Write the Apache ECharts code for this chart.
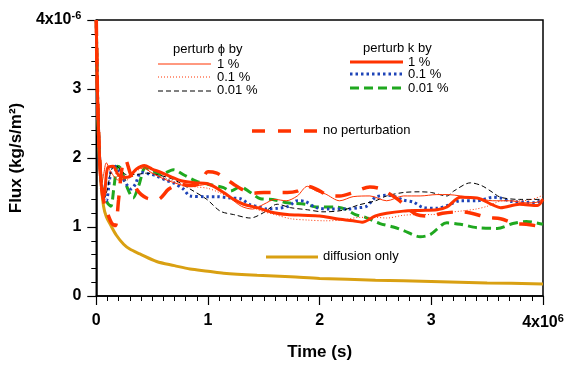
<!DOCTYPE html>
<html>
<head>
<meta charset="utf-8">
<script src="https://cdn.jsdelivr.net/npm/echarts@6/dist/echarts.min.js"></script>
<style>
  html, body { margin: 0; padding: 0; background: #fff; }
  #chart { width: 576px; height: 366px; }
</style>
</head>
<body>
<div id="chart"></div>
<script>
// time in units of 1e6 s, flux in units of 1e-6 kg/s/m2
const xTicks = [0, 1, 2, 3, 4]
const yTicks = [0, 1, 2, 3, 4]

const diffusionOnly = [
  [0, 4.0], [0.01, 3.0], [0.02, 2.3], [0.04, 1.7], [0.065, 1.3], [0.09, 1.15],
  [0.125, 1.04], [0.18, 0.88], [0.245, 0.75], [0.3, 0.68], [0.39, 0.61], [0.54, 0.5],
  [0.7, 0.44], [0.84, 0.39], [1.0, 0.36], [1.14, 0.33], [1.44, 0.3], [1.74, 0.28],
  [2.0, 0.255], [2.5, 0.23], [3.0, 0.21], [3.5, 0.19], [4.0, 0.175]
]

const phi1 = [
  [0, 4.0], [0.01, 3.0], [0.025, 2.2], [0.045, 1.6], [0.065, 1.75], [0.09, 1.93],
  [0.13, 1.8], [0.2, 1.68], [0.28, 1.72], [0.35, 1.82], [0.42, 1.86], [0.5, 1.78],
  [0.6, 1.7], [0.7, 1.64], [0.8, 1.6], [0.9, 1.6], [1.0, 1.62], [1.1, 1.55],
  [1.2, 1.42], [1.3, 1.3], [1.4, 1.26], [1.5, 1.33], [1.6, 1.4], [1.7, 1.38],
  [1.8, 1.45], [1.89, 1.59], [1.97, 1.52], [2.05, 1.48], [2.18, 1.38], [2.3, 1.44],
  [2.45, 1.45], [2.6, 1.38], [2.75, 1.45], [2.9, 1.45], [3.05, 1.47], [3.15, 1.47],
  [3.26, 1.45], [3.4, 1.42], [3.55, 1.38], [3.7, 1.38], [3.85, 1.35], [3.95, 1.36], [4.0, 1.42]
]

const phi01 = [
  [0, 4.0], [0.01, 3.0], [0.025, 2.2], [0.045, 1.65], [0.07, 1.55], [0.1, 1.85],
  [0.14, 1.88], [0.2, 1.7], [0.27, 1.68], [0.35, 1.8], [0.42, 1.85], [0.5, 1.78],
  [0.6, 1.72], [0.7, 1.66], [0.8, 1.6], [0.9, 1.58], [1.0, 1.56], [1.1, 1.5],
  [1.2, 1.42], [1.3, 1.33], [1.4, 1.28], [1.5, 1.22], [1.6, 1.18], [1.74, 1.12],
  [1.9, 1.1], [2.05, 1.09], [2.2, 1.1], [2.36, 1.14], [2.5, 1.14], [2.6, 1.13],
  [2.75, 1.17], [2.9, 1.18], [3.0, 1.18], [3.14, 1.21], [3.26, 1.23], [3.4, 1.26],
  [3.5, 1.3], [3.64, 1.38], [3.8, 1.38], [3.9, 1.4], [4.0, 1.46]
]

const phi001 = [
  [0, 4.0], [0.01, 3.0], [0.025, 2.2], [0.045, 1.65], [0.07, 1.42], [0.1, 1.55],
  [0.13, 1.8], [0.17, 1.9], [0.22, 1.82], [0.27, 1.76], [0.35, 1.76], [0.45, 1.78],
  [0.54, 1.76], [0.69, 1.69], [0.84, 1.55], [0.99, 1.4], [1.11, 1.23], [1.23, 1.18],
  [1.38, 1.13], [1.5, 1.21], [1.62, 1.33], [1.74, 1.28], [1.89, 1.25], [2.03, 1.22],
  [2.2, 1.24], [2.35, 1.32], [2.5, 1.38], [2.6, 1.45], [2.75, 1.5], [2.9, 1.51],
  [3.0, 1.5], [3.14, 1.45], [3.2, 1.52], [3.35, 1.64], [3.45, 1.6], [3.55, 1.5],
  [3.62, 1.43], [3.79, 1.4], [4.0, 1.4]
]

const k1 = [
  [0, 4.0], [0.01, 3.0], [0.025, 2.2], [0.045, 1.6], [0.07, 1.45], [0.1, 1.85],
  [0.15, 1.88], [0.2, 1.75], [0.28, 1.72], [0.36, 1.84], [0.43, 1.89], [0.5, 1.84],
  [0.58, 1.79], [0.68, 1.72], [0.76, 1.67], [0.88, 1.64], [0.99, 1.63], [1.14, 1.5],
  [1.23, 1.4], [1.32, 1.33], [1.44, 1.28], [1.58, 1.21], [1.71, 1.18], [1.85, 1.17],
  [2.0, 1.16], [2.15, 1.12], [2.3, 1.09], [2.38, 1.07], [2.5, 1.16], [2.6, 1.2],
  [2.75, 1.23], [2.9, 1.24], [3.05, 1.25], [3.14, 1.29], [3.26, 1.43], [3.41, 1.42],
  [3.55, 1.32], [3.62, 1.28], [3.79, 1.33], [3.95, 1.31], [4.0, 1.4]
]

const k01 = [
  [0, 4.0], [0.01, 3.0], [0.025, 2.2], [0.045, 1.65], [0.07, 1.45], [0.09, 1.38],
  [0.12, 1.7], [0.15, 1.9], [0.2, 1.82], [0.27, 1.62], [0.31, 1.55], [0.35, 1.62],
  [0.4, 1.79], [0.47, 1.77], [0.54, 1.74], [0.62, 1.68], [0.69, 1.64], [0.78, 1.55],
  [0.84, 1.45], [0.99, 1.44], [1.08, 1.44], [1.2, 1.42], [1.29, 1.41], [1.38, 1.32],
  [1.44, 1.3], [1.53, 1.26], [1.62, 1.27], [1.72, 1.3], [1.8, 1.38], [1.87, 1.37],
  [1.97, 1.28], [2.1, 1.26], [2.23, 1.26], [2.35, 1.28], [2.42, 1.3], [2.5, 1.43],
  [2.6, 1.46], [2.66, 1.45], [2.75, 1.39], [2.84, 1.36], [2.93, 1.28], [3.05, 1.27],
  [3.14, 1.31], [3.26, 1.38], [3.41, 1.38], [3.55, 1.43], [3.62, 1.42], [3.72, 1.37],
  [3.85, 1.36], [3.93, 1.35], [4.0, 1.4]
]

const k001 = [
  [0, 4.0], [0.01, 3.0], [0.025, 2.2], [0.045, 1.65], [0.07, 1.5], [0.1, 1.35],
  [0.13, 1.3], [0.16, 1.6], [0.19, 1.88], [0.22, 1.85], [0.27, 1.6], [0.33, 1.42],
  [0.38, 1.6], [0.44, 1.86], [0.5, 1.82], [0.58, 1.76], [0.69, 1.83], [0.79, 1.75],
  [0.9, 1.66], [1.0, 1.62], [1.14, 1.57], [1.2, 1.52], [1.29, 1.58], [1.38, 1.5],
  [1.47, 1.41], [1.58, 1.4], [1.71, 1.35], [1.87, 1.33], [1.97, 1.29], [2.14, 1.29],
  [2.23, 1.26], [2.32, 1.18], [2.41, 1.14], [2.54, 1.05], [2.66, 1.0], [2.75, 0.95],
  [2.9, 0.86], [2.99, 0.89], [3.14, 1.06], [3.26, 1.04], [3.41, 0.99], [3.59, 0.98],
  [3.73, 1.05], [3.85, 1.08], [4.0, 1.04]
]

const noPerturb = [
  [0, 4.0], [0.01, 3.0], [0.025, 2.2], [0.045, 1.6], [0.07, 1.35], [0.1, 1.2],
  [0.14, 1.05], [0.17, 1.02], [0.2, 1.4], [0.23, 1.85], [0.26, 1.98], [0.3, 1.8],
  [0.36, 1.55], [0.45, 1.42], [0.55, 1.4], [0.65, 1.55], [0.75, 1.62], [0.85, 1.6],
  [0.93, 1.64], [1.0, 1.8], [1.08, 1.78], [1.14, 1.72], [1.23, 1.62], [1.3, 1.55],
  [1.4, 1.49], [1.5, 1.5], [1.6, 1.5], [1.71, 1.5], [1.8, 1.52], [1.89, 1.59],
  [1.97, 1.55], [2.08, 1.46], [2.18, 1.45], [2.3, 1.5], [2.45, 1.58], [2.55, 1.55],
  [2.7, 1.4], [2.87, 1.18], [2.99, 1.16], [3.1, 1.2], [3.26, 1.22], [3.36, 1.2],
  [3.5, 1.14], [3.62, 1.12], [3.75, 1.05], [3.85, 1.04], [4.0, 1.0]
]

const RED = '#ff3300'
const BLUE = '#1e44b8'
const GREEN = '#1fa81f'
const GOLD = '#d9a012'
const FONT = 'Liberation Sans, Arial, sans-serif'

const chart = echarts.init(document.getElementById('chart'), null, { renderer: 'canvas' })

function lineSeries(name, data, color, width, type, z) {
  return {
    name: name,
    type: 'line',
    data: data,
    showSymbol: false,
    smooth: 0.3,
    z: z,
    lineStyle: { color: color, width: width, type: type, cap: 'butt' },
  }
}

const tickRich = {
  n: { fontFamily: FONT, fontSize: 16, fontWeight: 'bold', color: '#000' },
  s: { fontFamily: FONT, fontSize: 11, fontWeight: 'bold', color: '#000', verticalAlign: 'top', padding: [0, 0, 9, 0] },
}

// legend text + samples
const legendText = (text, x, y) => ({
  type: 'text', x: x, y: y,
  style: { text: text, font: '13px ' + FONT, fill: '#000', verticalAlign: 'middle' },
})
const legendLine = (x1, x2, y, color, width, dash) => ({
  type: 'line',
  shape: { x1: x1, y1: y, x2: x2, y2: y },
  style: { stroke: color, lineWidth: width, lineDash: dash },
})

const option = {
  animation: false,
  backgroundColor: '#fff',
  grid: {
    left: 96, right: 33, top: 20, bottom: 69,
    show: true, borderColor: '#000', borderWidth: 1.5,
  },
  xAxis: {
    type: 'value',
    min: xTicks[0],
    max: xTicks[xTicks.length - 1],
    interval: 1,
    name: 'Time (s)',
    nameLocation: 'middle',
    nameGap: 48,
    nameTextStyle: { fontFamily: FONT, fontSize: 17, fontWeight: 'bold', color: '#000' },
    axisLine: { lineStyle: { color: '#000', width: 1.5 } },
    axisTick: { length: 9, lineStyle: { color: '#000', width: 1.2 } },
    minorTick: { show: true, splitNumber: 10, length: 5, lineStyle: { color: '#000', width: 1 } },
    splitLine: { show: false },
    axisLabel: {
      margin: 17,
      fontFamily: FONT, fontSize: 16, fontWeight: 'bold', color: '#000',
      formatter: (v) => (v === 4 ? '{n|4x10}{s|6}' : '{n|' + v + '}'),
      rich: tickRich,
    },
  },
  yAxis: {
    type: 'value',
    min: yTicks[0],
    max: yTicks[yTicks.length - 1],
    interval: 1,
    name: 'Flux (kg/s/m²)',
    nameLocation: 'middle',
    nameRotate: 90,
    nameGap: 58,
    nameTextStyle: { fontFamily: FONT, fontSize: 17, fontWeight: 'bold', color: '#000' },
    axisLine: { lineStyle: { color: '#000', width: 1.5 } },
    axisTick: { length: 9, lineStyle: { color: '#000', width: 1.2 } },
    minorTick: { show: true, splitNumber: 5, length: 5, lineStyle: { color: '#000', width: 1 } },
    splitLine: { show: false },
    axisLabel: {
      margin: 15,
      fontFamily: FONT, fontSize: 16, fontWeight: 'bold', color: '#000',
      formatter: (v) => (v === 4 ? '{n|4x10}{s|-6}' : '{n|' + v + '}'),
      rich: tickRich,
    },
  },
  series: [
    lineSeries('diffusion only', diffusionOnly, GOLD, 3, 'solid', 2),
    lineSeries('k 0.01 %', k001, GREEN, 3, [9, 5], 3),
    lineSeries('k 0.1 %', k01, BLUE, 3, [2.5, 3], 4),
    lineSeries('phi 0.01 %', phi001, '#000', 1, [5, 3], 5),
    lineSeries('phi 0.1 %', phi01, RED, 1, [1, 2], 6),
    lineSeries('k 1 %', k1, RED, 3, 'solid', 7),
    lineSeries('phi 1 %', phi1, RED, 1, 'solid', 8),
    lineSeries('no perturbation', noPerturb, RED, 3.5, [16, 12], 9),
  ],
  graphic: [
    legendText('perturb ϕ by', 173, 49),
    legendLine(158, 211, 64, RED, 1, null),
    legendText('1 %', 217, 64),
    legendLine(158, 211, 77, RED, 1, [1, 2]),
    legendText('0.1 %', 217, 77),
    legendLine(158, 211, 91, '#000', 1, [5, 3]),
    legendText('0.01 %', 217, 90),

    legendText('perturb k by', 363, 48),
    legendLine(350, 403, 62, RED, 3, null),
    legendText('1 %', 408, 62),
    legendLine(350, 403, 74, BLUE, 3, [2.5, 3]),
    legendText('0.1 %', 408, 74),
    legendLine(350, 403, 88, GREEN, 3, [9, 5]),
    legendText('0.01 %', 408, 88),

    legendLine(252, 318, 131, RED, 3.5, [13, 13]),
    legendText('no perturbation', 323, 130),

    legendLine(266, 318, 257, GOLD, 3, null),
    legendText('diffusion only', 323, 256),
  ],
}

chart.setOption(option)
</script>
</body>
</html>
